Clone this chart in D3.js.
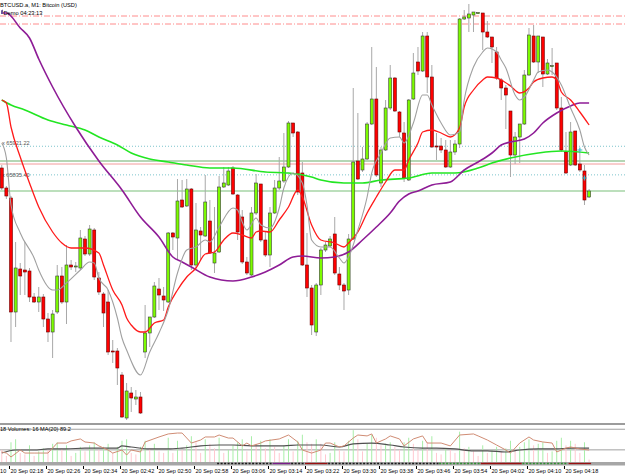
<!DOCTYPE html>
<html>
<head>
<meta charset="utf-8">
<script src="https://cdn.jsdelivr.net/npm/d3@7"></script>
<style>
  body { margin: 0; background: #fff; }
  svg { display: block; font-family: "Liberation Sans", Arial, sans-serif; }
</style>
</head>
<body>
<svg id="chart" width="625" height="476"></svg>
<script>
// BTCUSD.a M1 candles, 20 Sep 02:16 -> 04:23
const opens = [
  65856,65796,65766,65424,65553,65550,65547,65469,65454,65469,
  65403,65364,65424,65532,65454,65565,65559,65556,65643,65598,
  65670,65526,65478,65454,65307,65307,65235,65106,65181,65163,
  65169,65304,65361,65409,65493,65472,65454,65661,65646,65760,
  65742,65793,65565,65667,65652,65697,65571,65604,65799,65805,
  65856,65775,65709,65574,65535,65721,65808,65640,65595,65721,
  65796,65817,65859,65991,65964,65841,65565,65496,65364,65505,
  65610,65622,65658,65538,65505,65490,65643,65877,65850,65883,
  65988,66063,65811,65910,66036,66126,66024,65961,65820,66063,
  66174,66147,66252,66129,65922,65922,65910,65859,65904,65928,
  66303,66306,66315,66321,66321,66264,66249,66204,66120,66096,
  66027,65895,65949,65988,66135,66252,66174,66249,66138,66162,
  66171,66036,65904,65865,65967,65868,65847,65769]
const highs = [
  65865,65802,65772,65634,65571,65634,65556,65481,65499,65478,
  65421,65430,65565,65559,65625,65580,65574,65670,65652,65685,
  65676,65544,65484,65490,65340,65316,65244,65211,65199,65190,
  65184,65445,65406,65514,65526,65499,65664,65664,65823,65820,
  65823,65796,65751,65679,65835,65760,65739,65832,65859,65859,
  65862,65778,65730,65589,65739,65838,65808,65664,65739,65820,
  65889,65961,65997,65991,65967,65874,65661,65505,65511,65616,
  65634,65652,65709,65559,65511,65658,66096,66021,65919,65994,
  66219,66159,65919,66060,66165,66129,66027,65994,66063,66201,
  66219,66264,66264,66165,65961,65946,65940,65940,65940,66306,
  66330,66348,66324,66324,66321,66297,66249,66219,66126,66105,
  66027,65964,65988,66150,66276,66285,66252,66249,66183,66216,
  66171,66069,65964,65994,65967,65904,65865,65793]
const lows = [
  65790,65763,65334,65379,65475,65475,65454,65451,65424,65379,
  65334,65286,65418,65448,65388,65550,65544,65550,65592,65592,
  65520,65475,65379,65295,65271,65205,65106,65100,65124,65145,
  65118,65286,65319,65406,65430,65427,65451,65610,65580,65736,
  65739,65550,65556,65580,65649,65598,65541,65601,65796,65802,
  65775,65640,65568,65535,65532,65715,65634,65589,65559,65718,
  65790,65811,65856,65949,65775,65562,65469,65355,65352,65475,
  65604,65619,65535,65490,65430,65475,65640,65820,65844,65880,
  65985,65829,65799,65907,66030,66024,65949,65814,65817,66060,
  66135,66144,66081,65916,65880,65901,65856,65856,65895,65916,
  66300,66264,66264,66318,66210,66246,66171,66120,66060,65973,
  65829,65868,65871,65985,66132,66171,66141,66099,66135,66135,
  66030,65904,65838,65862,65862,65844,65745,65766]
const closes = [
  65796,65772,65424,65556,65532,65544,65469,65454,65469,65403,
  65364,65418,65532,65454,65565,65559,65562,65646,65598,65673,
  65529,65484,65421,65304,65304,65256,65109,65187,65166,65169,
  65121,65361,65409,65502,65475,65460,65661,65649,65757,65739,
  65793,65565,65670,65655,65754,65601,65601,65799,65811,65847,
  65778,65664,65574,65541,65721,65811,65640,65595,65721,65796,
  65817,65859,65991,65961,65784,65565,65496,65385,65505,65610,
  65625,65643,65541,65505,65487,65643,65874,65823,65883,65988,
  66063,65835,65910,66036,66126,66027,65964,65826,66060,66141,
  66147,66252,66129,65919,65919,65910,65859,65904,65928,66303,
  66309,66318,66324,66322,66264,66249,66219,66126,66096,66075,
  65895,65949,65988,66135,66255,66174,66252,66138,66171,66163,
  66036,65910,65841,65964,65865,65850,65760,65787]
const volumes = [
  80,40,130,150,60,50,110,40,70,90,
  80,120,130,90,110,40,60,100,70,110,
  130,80,100,120,60,100,140,150,60,50,
  100,140,90,120,70,60,160,60,140,80,
  110,170,130,60,150,120,90,160,60,80,
  110,130,150,70,170,120,140,90,150,100,
  60,110,150,70,140,180,130,120,150,120,
  50,60,130,80,70,140,210,150,70,120,
  180,160,110,120,130,100,80,130,160,120,
  80,140,130,170,60,50,90,80,60,200,
  90,100,70,40,110,60,80,100,70,90,
  140,80,100,130,150,110,120,130,60,70,
  140,160,110,140,120,60,130,16]

// moving averages: [bar index, price]
const grayMA = [[0,65931],[1,65886],[2,65745],[4,65661],[7,65586],[8,65550],[11,65490],[12,65490],
  [14,65511],[17,65550],[19,65574],[20,65571],[21,65526],[23,65490],[25,65406],[26,65346],[27,65310],
  [30,65235],[32,65304],[34,65361],[36,65430],[38,65541],[40,65610],[42,65619],[44,65640],[45,65634],
  [47,65679],[50,65736],[51,65730],[52,65694],[53,65670],[55,65706],[56,65685],[58,65676],[60,65736],
  [61,65796],[63,65841],[65,65811],[66,65745],[67,65640],[69,65619],[71,65619],[73,65586],[74,65571],
  [75,65589],[77,65670],[79,65769],[80,65841],[82,65901],[84,65946],[86,65949],[87,65931],[89,65991],
  [91,66075],[92,66075],[93,66045],[95,65991],[97,65955],[99,65964],[100,66060],[102,66159],[104,66204],
  [105,66216],[107,66204],[108,66180],[109,66156],[111,66075],[112,66060],[113,66069],[115,66120],
  [116,66144],[118,66150],[119,66144],[121,66105],[123,66036],[125,65970],[126,65919],[127,65895]]
const redMA = [[0,66060],[1,66051],[2,65979],[4,65889],[6,65811],[8,65739],[11,65664],[13,65631],
  [15,65616],[18,65616],[21,65601],[22,65565],[24,65490],[26,65445],[27,65406],[28,65385],[30,65364],
  [31,65364],[33,65391],[35,65400],[36,65439],[38,65490],[40,65529],[42,65556],[44,65598],[46,65604],
  [48,65640],[50,65661],[52,65655],[54,65646],[55,65664],[56,65667],[58,65664],[60,65700],[62,65739],
  [64,65790],[65,65769],[67,65685],[69,65640],[72,65631],[74,65619],[75,65631],[77,65664],[79,65721],
  [81,65769],[83,65814],[85,65850],[87,65850],[88,65880],[90,65931],[91,65964],[93,65970],[95,65961],
  [97,65949],[99,65976],[100,66039],[102,66090],[104,66120],[105,66129],[107,66126],[108,66120],
  [110,66102],[112,66081],[114,66096],[115,66114],[117,66126],[119,66129],[120,66120],[121,66084],
  [123,66060],[125,66024],[127,65985]]
const purpleMA = [[0,66321],[1,66321],[4,66276],[6,66246],[8,66183],[11,66099],[16,65979],[21,65877],
  [26,65790],[30,65709],[34,65649],[37,65589],[39,65574],[41,65559],[45,65529],[50,65517],[54,65529],
  [57,65544],[60,65565],[63,65589],[65,65592],[69,65586],[72,65589],[75,65604],[78,65640],[81,65679],
  [84,65721],[86,65757],[88,65778],[90,65787],[93,65805],[97,65814],[100,65850],[103,65874],[106,65901],
  [108,65925],[110,65934],[113,65943],[115,65961],[117,65991],[120,66021],[123,66042],[125,66051],[127,66051]]
const greenMA = [[0,66060],[2,66045],[5,66030],[10,66000],[14,65985],[18,65970],[21,65949],[25,65925],
  [28,65901],[32,65883],[36,65874],[40,65865],[45,65856],[50,65856],[57,65844],[62,65841],[67,65829],
  [69,65820],[74,65811],[78,65811],[82,65820],[88,65826],[93,65841],[98,65841],[103,65856],[106,65871],
  [110,65886],[116,65901],[121,65907],[127,65901]]

// volume window lines: [bar index, value]
const volFast = [[0,66],[1,59],[2,33],[4,79],[5,59],[7,59],[9,59],[10,59],[12,125],[14,125],[15,139],
  [17,152],[18,132],[20,125],[21,106],[23,79],[24,59],[26,79],[27,46],[28,79],[30,66],[31,132],[34,165],
  [36,185],[38,191],[39,191],[41,125],[43,145],[44,165],[46,165],[47,178],[49,158],[50,158],[52,106],
  [53,125],[54,106],[56,125],[57,139],[60,152],[62,178],[64,132],[65,79],[67,59],[69,79],[70,125],
  [71,125],[73,99],[74,106],[76,158],[77,178],[79,172],[80,185],[81,125],[83,152],[84,172],[86,152],
  [87,106],[89,152],[91,172],[92,125],[95,125],[97,106],[99,178],[102,185],[103,172],[105,145],[107,112],
  [109,79],[110,59],[112,125],[114,165],[115,145],[117,132],[119,125],[120,66],[122,92],[123,99],
  [125,86],[127,79]]
const volMA20 = [[0,59],[3,79],[7,79],[10,86],[14,86],[18,92],[21,92],[25,92],[26,106],[28,99],[32,86],
  [36,86],[39,92],[43,106],[47,112],[50,112],[54,106],[57,106],[61,106],[64,112],[69,112],[73,99],[76,119],
  [80,125],[84,112],[87,99],[91,92],[94,92],[98,86],[102,73],[105,73],[109,66],[112,79],[116,86],[120,86],
  [123,92],[127,92]]

// price levels
const dashDotLevels = [66312, 66288]
const dottedLevels = [65921.22, 65835.40]
const greenLevel = 65877
const pinkLevel = 65868
const lightGreenLevel = 65787
const markerBars = [125, 126]
const markerPrices = [65910, 65826]

// history strip under the volume window
const tradeStart = [47, 59, 63, 66, 71, 95, 104, 113, 123]
const tradeEnd   = [58, 62, 65, 70, 94, 103, 112, 122, 127]
const tradeKind  = ['flat','pending','flat','sell','flat','buy','sell','buy','sell']

const tickLabels = ['02:10','02:18','02:26','02:34','02:42','02:50','02:58','03:06','03:14',
  '03:22','03:30','03:38','03:46','03:54','04:02','04:10','04:18']

const mainBottom = 423
const volTop = 425, volBottom = 462

const parseTime = d3.timeParse('%Y-%m-%d %H:%M')
const firstBar = parseTime('2024-09-20 02:16')
const times = opens.map((d, i) => d3.timeMinute.offset(firstBar, i))

const x = d3.scaleTime()
    .domain([times[0], times[times.length - 1]])
    .range([1.75, 589.1])
const y = d3.scaleLinear().domain([65091, 66360]).range([mainBottom, 0])
const yVol = d3.scaleLinear().domain([0, 244]).range([volBottom, volTop])

const svg = d3.select('#chart')

svg.append('clipPath').attr('id', 'clipMain')
  .append('rect').attr('x', 0).attr('y', 0).attr('width', 625).attr('height', mainBottom)

const main = svg.append('g').attr('clip-path', 'url(#clipMain)')

// level lines
main.selectAll('.dd').data(dashDotLevels).enter().append('line')
    .attr('x1', 0).attr('x2', 625)
    .attr('y1', d => y(d)).attr('y2', d => y(d))
    .attr('stroke', '#ff8c8c').attr('stroke-width', 1)
    .attr('stroke-dasharray', '6,2,1,2')
main.selectAll('.dot').data(dottedLevels).enter().append('line')
    .attr('x1', 0).attr('x2', 625)
    .attr('y1', d => y(d)).attr('y2', d => y(d))
    .attr('stroke', '#7cc4cc').attr('stroke-width', 1)
    .attr('stroke-dasharray', '1,2')
main.append('line').attr('x1', 0).attr('x2', 625)
    .attr('y1', y(greenLevel)).attr('y2', y(greenLevel))
    .attr('stroke', '#6aad6a').attr('stroke-width', 1)
main.append('line').attr('x1', 0).attr('x2', 625)
    .attr('y1', y(pinkLevel)).attr('y2', y(pinkLevel))
    .attr('stroke', '#f29a9a').attr('stroke-width', 1)
main.append('line').attr('x1', 0).attr('x2', 625)
    .attr('y1', y(lightGreenLevel)).attr('y2', y(lightGreenLevel))
    .attr('stroke', '#a6d4a6').attr('stroke-width', 1.5)

main.selectAll('.lvlText').data(dottedLevels).enter().append('text')
    .attr('x', 2).attr('y', (d, i) => y(d) + (i === 0 ? -1 : 2))
    .attr('font-size', '5.6px').attr('fill', '#555')
    .text(d => 'x ' + d3.format('.2f')(d))

// candles
const candles = main.selectAll('.candle').data(opens).enter().append('g')
candles.append('line')
    .attr('x1', (d, i) => x(times[i])).attr('x2', (d, i) => x(times[i]))
    .attr('y1', (d, i) => y(highs[i])).attr('y2', (d, i) => y(lows[i]))
    .attr('stroke', '#a8a8a8').attr('stroke-width', 1)
candles.append('rect')
    .attr('x', (d, i) => x(times[i]) - 1.5)
    .attr('width', 3)
    .attr('y', (d, i) => y(Math.max(opens[i], closes[i])))
    .attr('height', (d, i) => Math.max(1, Math.abs(y(opens[i]) - y(closes[i]))))
    .attr('fill', (d, i) => closes[i] >= opens[i] ? '#7cfc00' : '#ff0000')
    .attr('stroke', (d, i) => closes[i] >= opens[i] ? '#3a3a3a' : '#6a0000')
    .attr('stroke-width', 0.6)

// moving averages
const maLine = d3.line()
    .x(d => x(times[d[0]]))
    .y(d => y(d[1]))
    .curve(d3.curveMonotoneX)

main.append('path').datum(greenMA).attr('fill', 'none')
    .attr('stroke', '#22e622').attr('stroke-width', 1.6).attr('d', maLine)
main.append('path').datum(purpleMA).attr('fill', 'none')
    .attr('stroke', '#8e1c96').attr('stroke-width', 1.6).attr('d', maLine)
main.append('path').datum(redMA).attr('fill', 'none')
    .attr('stroke', '#ff1a1a').attr('stroke-width', 1.3).attr('d', maLine)
main.append('path').datum(grayMA).attr('fill', 'none')
    .attr('stroke', '#a0a0a0').attr('stroke-width', 1.1).attr('d', maLine)

// trade markers
markerBars.forEach((b, i) => {
  const mx = x(times[b]), my = y(markerPrices[i])
  main.append('path')
      .attr('d', `M${mx - 2.5},${my}L${mx + 2.5},${my}M${mx},${my - 2.5}L${mx},${my + 2.5}`)
      .attr('stroke', '#3cb8c8').attr('stroke-width', 1.2)
})

// title texts
svg.append('text').attr('x', 0).attr('y', 7)
    .attr('font-size', '5.7px').attr('fill', '#000')
    .text('BTCUSD.a, M1:  Bitcoin (USD)')
svg.append('path').attr('d', 'M1,10.5L3,9.5L3,14L1,14Z').attr('fill', '#6b5b9b')
svg.append('text').attr('x', 3.5).attr('y', 14.5)
    .attr('font-size', '5.7px').attr('fill', '#000')
    .text('Demo 04:23:13')

// separators
svg.append('rect').attr('x', 0).attr('y', 423).attr('width', 625).attr('height', 2).attr('fill', '#9c9c9c')
svg.append('rect').attr('x', 0).attr('y', 462).attr('width', 625).attr('height', 3.5).attr('fill', '#a6a6a6')

// volume window
const vol = svg.append('g')
vol.selectAll('.lvl').data([216, 80]).enter().append('line')
    .attr('x1', 0).attr('x2', 625)
    .attr('y1', d => yVol(d)).attr('y2', d => yVol(d))
    .attr('stroke', '#a0a0a0').attr('stroke-width', 1)
vol.selectAll('.vbar').data(volumes).enter().append('line')
    .attr('x1', (d, i) => x(times[i])).attr('x2', (d, i) => x(times[i]))
    .attr('y1', yVol(0)).attr('y2', d => yVol(d))
    .attr('stroke', (d, i) => i > 0 && d > volumes[i - 1] ? '#a8eea8' : '#ffc8d0')
    .attr('stroke-width', 1)

const volLine = d3.line()
    .x(d => x(times[d[0]]))
    .y(d => yVol(d[1]))
    .curve(d3.curveLinear)
vol.append('path').datum(volMA20).attr('fill', 'none')
    .attr('stroke', '#505050').attr('stroke-width', 1.2).attr('d', volLine.curve(d3.curveMonotoneX))
vol.append('path').datum(volFast).attr('fill', 'none')
    .attr('stroke', '#d08c74').attr('stroke-width', 1).attr('d', volLine.curve(d3.curveLinear))

vol.append('text').attr('x', 0).attr('y', 431)
    .attr('font-size', '5.6px').attr('fill', '#000')
    .text('18 Volumes: 16 MA(20) 89.2')

// history strip
const kindColor = {flat: '#1a1a1a', pending: '#7a1f8a', buy: '#2f8f2f', sell: '#9a1010'}
const kindDash = {flat: '2,1.5', pending: null, buy: '2,1.5', sell: null}
tradeStart.forEach((s, i) => {
  svg.append('line')
      .attr('x1', x(times[s]) - 2).attr('x2', x(times[tradeEnd[i]]) + 2)
      .attr('y1', 463.5).attr('y2', 463.5)
      .attr('stroke', kindColor[tradeKind[i]]).attr('stroke-width', 1.3)
      .attr('stroke-dasharray', kindDash[tradeKind[i]])
})

// time axis
const tickTimes = tickLabels.map(t => parseTime('2024-09-20 ' + t))
const axis = svg.append('g')
    .attr('transform', 'translate(0,466)')
    .call(d3.axisBottom(x)
        .tickValues(tickTimes)
        .tickFormat(d3.timeFormat('%d %b %H:%M'))
        .tickSize(3))
axis.select('.domain').remove()
axis.selectAll('.tick line').attr('x1', -2).attr('x2', -2).attr('stroke', '#000')
axis.selectAll('.tick text')
    .attr('text-anchor', 'start')
    .attr('x', -1).attr('y', 7).attr('dy', 0)
    .attr('font-size', '5.5px').attr('font-family', '"Liberation Sans", Arial, sans-serif')
    .attr('fill', '#000')
</script>
</body>
</html>
